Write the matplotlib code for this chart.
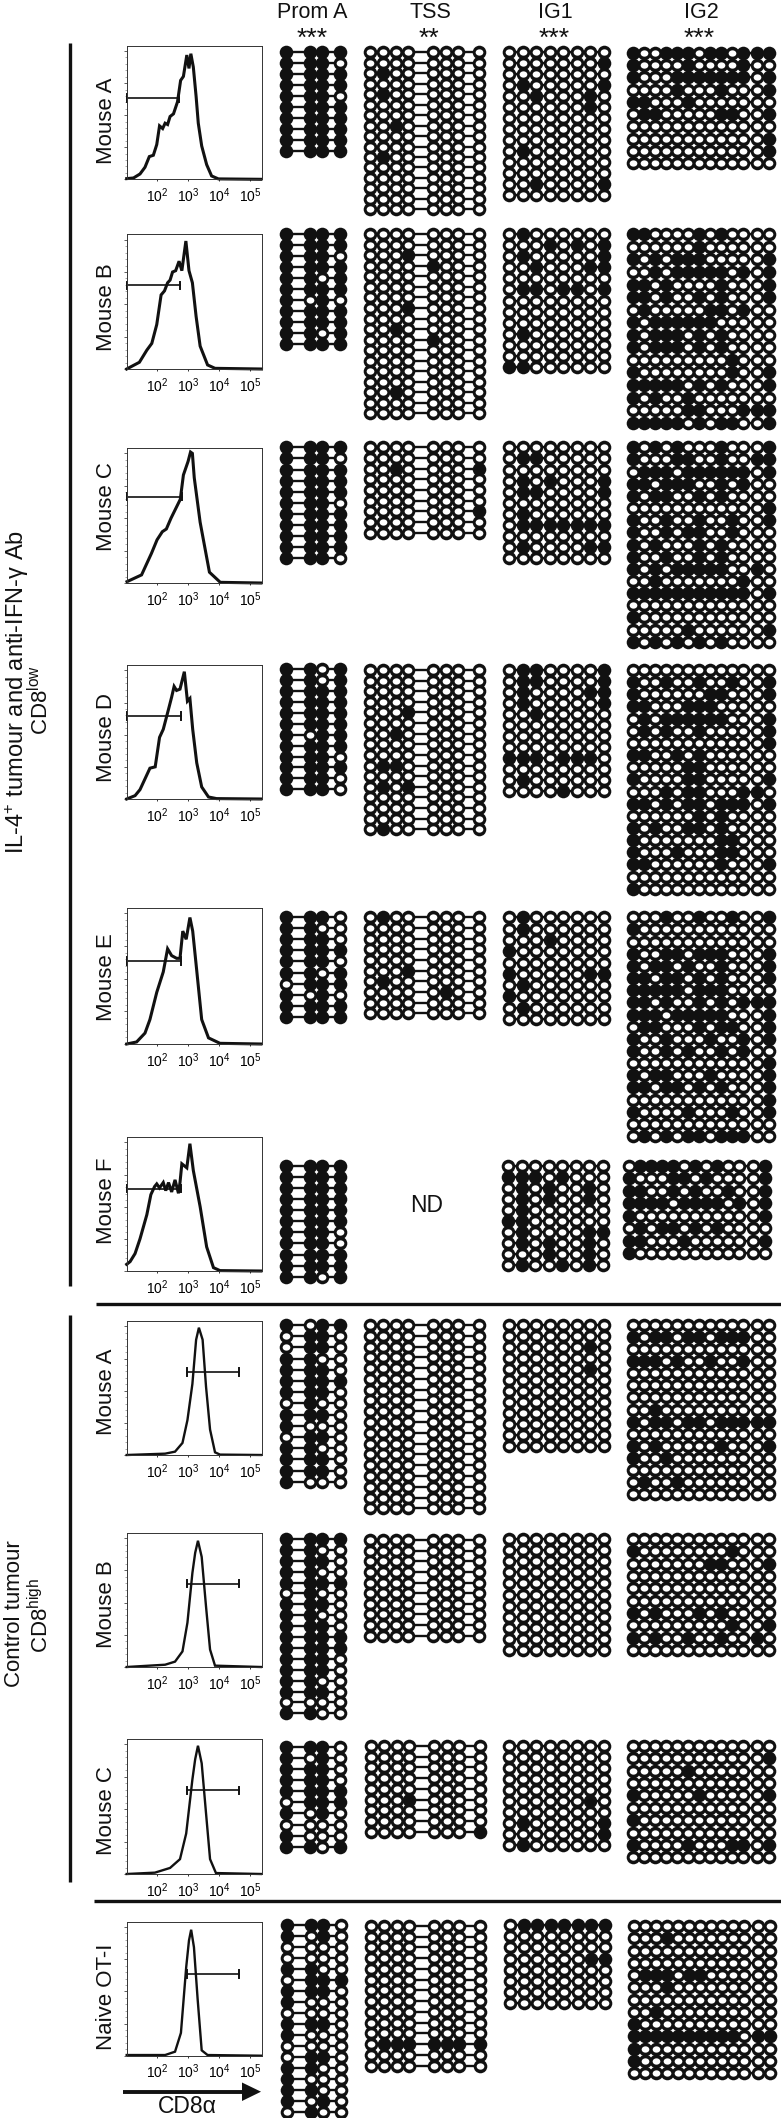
import numpy as np
import matplotlib
matplotlib.use('Agg')
import matplotlib.pyplot as plt
from matplotlib.markers import MarkerStyle
from matplotlib.patches import Polygon
from matplotlib.transforms import Affine2D

plt.rcParams['font.family'] = ['Liberation Sans', 'DejaVu Sans']
plt.rcParams['mathtext.fontset'] = 'custom'
plt.rcParams['mathtext.rm'] = 'Liberation Sans'
plt.rcParams['mathtext.default'] = 'regular'

INK = '#111111'
W, H = 781, 2118

# ---- flow histograms: log10 of CD8a signal, % of max height
il4_a_x = [1.02, 1.24, 1.45, 1.61, 1.75, 1.88, 1.99, 2.08, 2.18, 2.26, 2.34, 2.42, 2.53, 2.66, 2.76, 2.85, 2.96, 3.03, 3.09, 3.17, 3.26, 3.33, 3.44, 3.60, 3.76, 3.98, 5.35]
il4_a_y = [0.5, 1, 4, 9, 17, 18, 26, 40, 38, 42, 41, 47, 49, 58, 74, 77, 93, 83, 94, 84, 62, 42, 25, 11, 2.5, 0.3, 0]
il4_b_x = [1.02, 1.43, 1.67, 1.83, 1.99, 2.13, 2.24, 2.34, 2.42, 2.5, 2.6, 2.71, 2.8, 2.93, 3.03, 3.14, 3.26, 3.39, 3.63, 3.87, 5.37]
il4_b_y = [0, 5, 14, 19, 33, 55, 58, 64, 66, 72, 73, 80, 73, 95, 73, 64, 39, 17, 3, 0.5, 0]
il4_c_x = [1.03, 1.5, 1.82, 2.0, 2.17, 2.3, 2.45, 2.6, 2.75, 2.85, 3.0, 3.08, 3.14, 3.2, 3.39, 3.69, 4.04, 5.35]
il4_c_y = [1, 6, 22, 32, 38, 40, 48, 55, 62, 80, 90, 97, 96, 78, 45, 8, 0.5, 0]
il4_d_x = [1.02, 1.29, 1.45, 1.67, 1.77, 1.94, 2.08, 2.2, 2.37, 2.47, 2.55, 2.63, 2.74, 2.88, 2.98, 3.06, 3.15, 3.28, 3.44, 3.66, 3.92, 5.35]
il4_d_y = [0, 2.5, 7, 18, 23, 24, 46, 52, 67, 76, 84, 81, 82, 95, 73, 75, 52, 27, 9, 1.5, 0.3, 0]
il4_e_x = [1.02, 1.34, 1.61, 1.77, 1.99, 2.2, 2.34, 2.47, 2.63, 2.74, 2.83, 2.94, 3.06, 3.15, 3.28, 3.44, 3.66, 4.03, 5.35]
il4_e_y = [0, 1.5, 8, 18, 38, 53, 70, 65, 63, 63, 83, 77, 93, 83, 54, 18, 4.5, 0.5, 0]
il4_f_x = [1.02, 1.13, 1.29, 1.45, 1.67, 1.8, 1.92, 1.99, 2.08, 2.2, 2.28, 2.37, 2.47, 2.58, 2.69, 2.74, 2.8, 2.96, 3.06, 3.17, 3.39, 3.6, 3.82, 4.03, 5.35]
il4_f_y = [5, 7, 13, 24, 42, 57, 63, 65, 62, 66, 60, 66, 59, 68, 58, 66, 80, 77, 95, 75, 48, 18, 2.5, 0.3, 0]
ctl_a_x = [1.02, 2.26, 2.58, 2.82, 2.98, 3.14, 3.26, 3.35, 3.47, 3.58, 3.71, 3.87, 4.03, 5.35]
ctl_a_y = [0, 1, 2.5, 9, 26, 53, 86, 95, 86, 51, 19, 2, 0.3, 0]
ctl_b_x = [1.02, 2.26, 2.58, 2.82, 2.98, 3.14, 3.23, 3.32, 3.44, 3.58, 3.71, 3.87, 5.35]
ctl_b_y = [0, 1.7, 4, 11.6, 33, 70, 85, 94, 82, 45, 13, 1, 0]
ctl_c_x = [1.02, 1.93, 2.42, 2.74, 2.94, 3.14, 3.23, 3.32, 3.44, 3.58, 3.71, 3.9, 5.35]
ctl_c_y = [0, 1, 4.5, 11, 30, 70, 85, 95, 82, 45, 11, 0.7, 0]
naive_x = [1.02, 2.26, 2.58, 2.77, 2.94, 3.03, 3.1, 3.19, 3.31, 3.44, 3.63, 5.35]
naive_y = [0.5, 0.5, 3, 17, 66, 86, 94, 81, 42, 4, 0.5, 0]

mouse_labels = ['Mouse A', 'Mouse B', 'Mouse C', 'Mouse D', 'Mouse E', 'Mouse F', 'Mouse A', 'Mouse B', 'Mouse C', 'Naive OT-I']
percent_labels = ['44', '57', '38', '57', '50', '58', '92', '89', '87', '81']
tick_labels = ['$10^{2}$', '$10^{3}$', '$10^{4}$', '$10^{5}$']
region_names = ['Prom A', 'TSS', 'IG1', 'IG2']
region_stars = ['***', '**', '***', '***']

# ---- methylation: 1 = filled circle, one string per clone
prom_il4_a = ['1111', '1110', '1111', '1111', '1110', '1111', '1111', '1111', '1111', '1111']
tss_il4_a = ['00000000', '00000000', '01000000', '00000000', '01000000', '00000000', '00000000', '00100000',
             '00000000', '00000000', '01000000', '00000000', '00000000', '00000000', '00000000', '00000000']
ig1_il4_a = ['00000000', '00000001', '00000000', '01000001', '00100010', '00000010', '00000000', '00000000',
             '00000000', '01000000', '00000000', '00000000', '00100001', '00000000']
ig2_il4_a = ['1001110110111', '1000010000100', '1000111111101', '0000100010001', '1100010000000',
             '0110000011001', '0000000000000', '0000000000001', '0000000000001', '0000000000000']

prom_il4_b = ['1111', '1111', '1110', '1111', '1101', '1111', '1010', '1111', '1111', '1101', '1111']
tss_il4_b = ['00000000', '00000000', '00010000', '00001000', '00000000', '00000000', '00000000', '00010000', '00000000',
             '00100000', '00001000', '00000000', '00000000', '00000000', '00000000', '00100000', '00000000', '00000000']
ig1_il4_b = ['01000000', '00010101', '01000001', '00100011', '00000000', '01101101', '00000000', '00000000',
             '00000000', '01000000', '00000000', '00000000', '11000000']
ig2_il4_b = ['1100001010000', '0000001000000', '1010111000001', '0010111110101', '1101000010001', '1101001010001',
             '0100000110100', '1011111100000', '1011101010000', '1011101010000', '0000000001000', '1000000001001',
             '1111101010001', '1010010000000', '0000011000111', '1111101011001']

prom_il4_c = ['1111', '1110', '1111', '1111', '1111', '1110', '1111', '1111', '1111', '1111', '1110']
tss_il4_c = ['00000000', '00000000', '00100001', '00000000', '00000000', '00000000', '00000001', '00000000', '00000000']
ig1_il4_c = ['00000000', '01100000', '00000000', '01010001', '01100001', '00000000', '01000000', '01111111',
             '00000000', '01000011', '00000000']
ig2_il4_c = ['1010100010001', '1000110010011', '0111011111101', '1101110010100', '1011001010000', '0000000000001',
             '1001001001001', '1001011001000', '1010001010000', '1001001010000', '1010111110010', '0010000000100',
             '1111111111101', '0000000000000', '1000000000000', '0000010000001', '1010101010000']

prom_il4_d = ['1101', '1101', '1111', '1111', '1111', '1111', '1011', '1111', '1110', '1111', '1110', '1110']
tss_il4_d = ['00000000', '00000000', '00000000', '00000000', '00010000', '00000000', '00100000', '00000000', '00000000',
             '01100000', '00000000', '01010000', '00000000', '00000000', '00000000', '01000000']
ig1_il4_d = ['01100001', '01100001', '01000011', '01000001', '00100000', '00000000', '00000000', '00000000',
             '11101110', '00000000', '01000000', '00001000']
ig2_il4_d = ['0000000000000', '1001001001001', '1000000110001', '1100011100000', '0101111110001', '0101001000001',
             '0000000000001', '1100101000000', '0000011000000', '1000011000001', '0001011000110', '1101011011101',
             '0000001010000', '1010011010000', '1000000011000', '1000100011000', '1100000010001', '0000000000000',
             '1000000000000']

prom_il4_e = ['1110', '1100', '1110', '1111', '1110', '1101', '0111', '1010', '1111', '1111']
tss_il4_e = ['01000000', '00000000', '00000000', '00000000', '00000000', '00010000', '01000000', '00000100',
             '00000000', '00000000']
ig1_il4_e = ['01000000', '01000000', '00010000', '10000000', '00000000', '10000011', '01000000', '10000000',
             '01000000', '00000000']
ig2_il4_e = ['0001001001001', '1000000000000', '0000000000000', '1001101110001', '1011010010001', '1101101010001',
             '1111101110000', '1101001010111', '1110111110001', '0110001011001', '1001000100101', '1001010010100',
             '0000000000001', '1011000100001', '1101101010001', '0000000000001', '1000010001001', '0000000000000',
             '0101011011100']

prom_il4_f = ['1111', '1111', '1111', '1111', '1111', '1111', '1110', '1110', '1111', '1111', '1101']
ig1_il4_f = ['00000000', '11101000', '01010010', '01010010', '01000000', '11000000', '01000011', '01010010',
             '00010010', '01001010']
ig2_il4_f = ['0111101010001', '1000110100001', '1100101001001', '1111011110101', '1000000000001', '0101101010000',
             '1100010000001', '1000000000000']

prom_ctl_a = ['1011', '0110', '0110', '1100', '1110', '1111', '1110', '0100', '1110', '1000', '0110', '1100', '1110',
              '1110', '1000']
tss_ctl_a = ['00000000'] * 18
ig1_ctl_a = ['00000000', '00000000', '00000010', '00000000', '00000010', '00000000', '00000000', '00000000',
             '00000000', '00000000', '00000000', '00000000']
ig2_ctl_a = ['0000000000000', '1011011011100', '0000000000000', '1110100100100', '0000000000000', '0000000000000',
             '0000000000000', '0010000000000', '1011011011111', '0000000000000', '1010000010001', '1001000000000',
             '0000000000000', '0100100000000', '0000000000000']

prom_ctl_b = ['1111', '1100', '1110', '1100', '1111', '0100', '1110', '1100', '1110', '1111', '1111', '1110', '1110',
              '1100', '1110', '0000', '1100']
tss_ctl_b = ['00000000'] * 10
ig1_ctl_b = ['00000000'] * 11
ig2_ctl_b = ['0000000000000', '1000000001000', '0000000110001', '0000000000000', '0000000000000', '0000000000000',
             '1010001010000', '0000000001001', '1010010010010', '0000000000000']

prom_ctl_c = ['1110', '1010', '1110', '1110', '1111', '0111', '1010', '0000', '1000', '1101']
tss_ctl_c = ['00000000', '00000000', '00000000', '00000000', '00000000', '00010000', '00000000', '00000000', '00000001']
ig1_ctl_c = ['00000000', '00000000', '00000000', '00000000', '00000000', '00000010', '00000000', '01000001',
             '00000001', '01000000']
ig2_ctl_c = ['0000000000000', '0000000000001', '0000010000000', '0000000000000', '1000001000001', '0000000000000',
             '1000000000000', '0000000000000', '1000010001101', '0000000000000']

prom_naive = ['1110', '1010', '0000', '0000', '1100', '0111', '1110', '1000', '0000', '1110', '1000', '0000', '0110',
              '1100', '1000', '1100', '1010', '0100']
tss_naive = ['00000000', '00000000', '00000000', '00000000', '00000000', '00000000', '00000000', '00000000',
             '00000000', '00000000', '00000000', '01111111', '00000000', '00000000']
ig1_naive = ['01111111', '00000000', '00000000', '00000011', '00000000', '00000000', '00000000', '00000000']
ig2_naive = ['0000000000000', '0001000000000', '0000000000000', '0000000000000', '0111011000000', '0001000000000',
             '0000000000000', '0010000000000', '1000000000000', '1111111111011', '1000000000000', '1000000000000',
             '0000000000000']

methylation = [
    [prom_il4_a, tss_il4_a, ig1_il4_a, ig2_il4_a],
    [prom_il4_b, tss_il4_b, ig1_il4_b, ig2_il4_b],
    [prom_il4_c, tss_il4_c, ig1_il4_c, ig2_il4_c],
    [prom_il4_d, tss_il4_d, ig1_il4_d, ig2_il4_d],
    [prom_il4_e, tss_il4_e, ig1_il4_e, ig2_il4_e],
    [prom_il4_f, None, ig1_il4_f, ig2_il4_f],
    [prom_ctl_a, tss_ctl_a, ig1_ctl_a, ig2_ctl_a],
    [prom_ctl_b, tss_ctl_b, ig1_ctl_b, ig2_ctl_b],
    [prom_ctl_c, tss_ctl_c, ig1_ctl_c, ig2_ctl_c],
    [prom_naive, tss_naive, ig1_naive, ig2_naive],
]
curves = [(il4_a_x, il4_a_y), (il4_b_x, il4_b_y), (il4_c_x, il4_c_y), (il4_d_x, il4_d_y), (il4_e_x, il4_e_y),
          (il4_f_x, il4_f_y), (ctl_a_x, ctl_a_y), (ctl_b_x, ctl_b_y), (ctl_c_x, ctl_c_y), (naive_x, naive_y)]

# ---- layout, in pixels of the final image
col_x = [[285.7, 310, 321.7, 340],
         [370, 383.3, 395.7, 407.7, 433.3, 445.7, 458, 479.3],
         [509, 522.7, 536, 550, 563.3, 576.7, 590, 604],
         [633.3, 644, 655, 666, 676.7, 687.7, 699, 710, 720.7, 731.7, 742.7, 757.3, 769.3]]
# first and last row y of each block
block_y = [
    [(51.7, 151), (52.3, 209.3), (51.7, 195), (52.7, 163.3)],
    [(234.3, 344), (234.3, 413.3), (234.3, 366.7), (234.3, 422.7)],
    [(447.3, 558.3), (447.3, 532.7), (447.3, 558.3), (447.3, 641.7)],
    [(669.3, 789.3), (670, 829.3), (670, 791), (670, 888.7)],
    [(917.3, 1016.7), (917.3, 1013.3), (917.3, 1019), (917.3, 1136)],
    [(1166, 1276.7), None, (1166, 1265.3), (1166, 1253.3)],
    [(1325, 1481.7), (1325, 1508.3), (1325, 1446), (1325, 1494)],
    [(1539, 1713.3), (1540, 1635.7), (1539, 1650), (1539, 1650)],
    [(1747, 1846.7), (1746, 1831.7), (1746, 1845), (1746, 1857.3)],
    [(1925, 2111.7), (1926, 2065.7), (1925, 2003.3), (1926, 2073.3)],
]
block_dx = {(5, 3): -4, (5, 2): -1, (8, 1): 1, (9, 0): 1, (9, 1): 1, (9, 2): 1, (9, 3): 1}
box_y = [(45.7, 179.3), (234.3, 369), (448, 583), (665, 799), (908, 1044), (1137, 1271),
         (1321, 1455), (1532.7, 1667), (1739, 1874), (1921.7, 2055.7)]
box_x = (127, 261.5)
label_y = [120.7, 306.7, 507, 737.6, 977, 1201, 1392, 1603.7, 1811, 1997]
pct_y = [69, 258, 466, 686.5, 932.6, 1157, 1351, 1563, 1766, 1943]
gate_y = [61, 62, 64, 62, 61, 61.5, 62, 62, 62, 61]
gate_x = [(1.02, 2.72), (1.02, 2.74), (1.02, 2.8), (1.02, 2.76), (1.02, 2.76), (1.02, 2.76),
          (2.95, 4.65), (2.95, 4.65), (2.95, 4.65), (2.95, 4.65)]

DISC = 13.6
HOLE = 6.8
hole_marker = MarkerStyle('o', transform=Affine2D().scale(1.13, 0.93))


def px2pt(d):
    return (d * 0.72) ** 2


fig = plt.figure(figsize=(W / 100, H / 100), dpi=100)
bg = fig.add_axes([0, 0, 1, 1])
bg.set_xlim(0, W)
bg.set_ylim(H, 0)
bg.axis('off')

# lollipop blocks
for i, row in enumerate(methylation):
    for j, block in enumerate(row):
        if block is None:
            continue
        y0, y1 = block_y[i][j]
        ys = np.linspace(y0, y1, len(block))
        xs = np.array(col_x[j]) + block_dx.get((i, j), 0)
        bg.hlines(ys, xs[0], xs[-1], color=INK, lw=1.7, zorder=2)
        gx, gy = np.meshgrid(xs, ys)
        bg.scatter(gx.ravel(), gy.ravel(), s=px2pt(DISC), color=INK, linewidths=0, zorder=3)
        cells = np.array([[c == '1' for c in r] for r in block])
        bg.scatter(gx[~cells], gy[~cells], s=px2pt(HOLE), marker=hole_marker, color='white', linewidths=0, zorder=4)

# histograms
for i, (cx, cy) in enumerate(curves):
    top, bot = box_y[i]
    ax = fig.add_axes([box_x[0] / W, 1 - bot / H, (box_x[1] - box_x[0]) / W, (bot - top) / H])
    ax.set_xscale('log')
    ax.set_xlim(10 ** 1.03, 10 ** 5.37)
    ax.set_ylim(0, 100)
    lw = 2.2 if i < 6 else 1.7
    ax.plot(10 ** np.array(cx), cy, color=INK, lw=lw, solid_joinstyle='miter', clip_on=False)
    ax.plot(10 ** np.array(gate_x[i]), [gate_y[i]] * 2, color=INK, lw=1.2)
    for gv in gate_x[i]:
        ax.plot([10 ** gv] * 2, [gate_y[i] - 2.8, gate_y[i] + 2.8], color=INK, lw=1.4, clip_on=False)
    ax.set_xticks([1e2, 1e3, 1e4, 1e5])
    ax.set_xticklabels(tick_labels, fontsize=10)
    ax.set_yticks([0, 24, 48, 72, 96])
    ax.set_yticklabels([])
    ax.set_yticks(np.arange(0, 100, 4.8), minor=True)
    ax.tick_params(axis='x', which='major', length=1.5, width=0.6, pad=3.5, color=INK)
    ax.tick_params(axis='x', which='minor', length=1, width=0.4, color=INK)
    ax.tick_params(axis='y', which='major', length=2.5, width=0.6, color='#444444')
    ax.tick_params(axis='y', which='minor', length=1.2, width=0.4, color='#666666')
    ax.xaxis.set_minor_formatter(plt.NullFormatter())
    for s in ax.spines.values():
        s.set_linewidth(0.7)
        s.set_color('#333333')
    bg.text(106.5, label_y[i], mouse_labels[i], rotation=90, ha='center', va='center', fontsize=16, color=INK)
    bg.text(146 if i < 6 else 244, pct_y[i], percent_labels[i], ha='center', va='center', fontsize=16, color=INK)

# column headers
for name, stars, hx, sx in zip(region_names, region_stars, [312.5, 430, 555, 701], [311.7, 429, 554, 699]):
    bg.text(hx, 12.5, name, ha='center', va='center', fontsize=15.5, color=INK)
    bg.text(sx, 39, stars, ha='center', va='center', fontsize=19, color=INK)

bg.text(427, 1205, 'ND', ha='center', va='center', fontsize=16.5, color=INK)

# group bars and rules
bg.vlines(70, 43, 1286, color=INK, lw=2.4)
bg.vlines(70, 1315, 1882, color=INK, lw=2.4)
bg.hlines(1304, 96, W, color=INK, lw=2.4)
bg.hlines(1901, 94, W, color=INK, lw=2.4)

bg.text(17, 692, 'IL-4$^{+}$ tumour and anti-IFN-γ Ab', rotation=90, ha='center', va='center', fontsize=17, color=INK)
bg.text(41, 700, 'CD8$^{low}$', rotation=90, ha='center', va='center', fontsize=16, color=INK)
bg.text(15, 1614, 'Control tumour', rotation=90, ha='center', va='center', fontsize=16, color=INK)
bg.text(41, 1615, 'CD8$^{high}$', rotation=90, ha='center', va='center', fontsize=16, color=INK)

# CD8a arrow
bg.hlines(2091.7, 122.5, 245, color=INK, lw=2.8)
bg.add_patch(Polygon([(242, 2082.5), (261, 2091.7), (242, 2101)], closed=True, color=INK, lw=0))
bg.text(187, 2106.5, 'CD8α', ha='center', va='center', fontsize=16.5, color=INK)

fig.savefig('out.png', dpi=100, facecolor='white')
